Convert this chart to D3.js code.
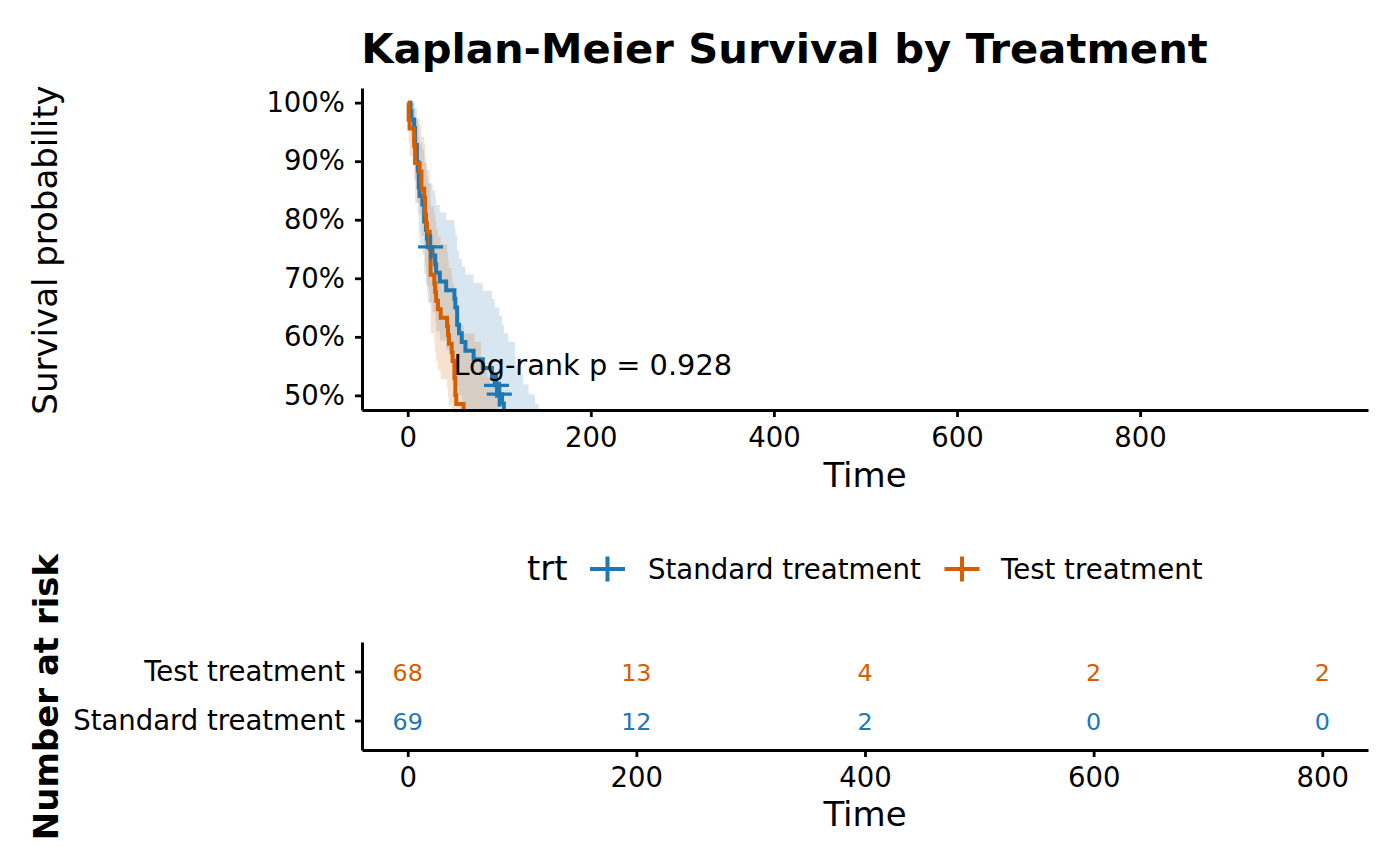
<!DOCTYPE html>
<html lang="en">
<head>
<meta charset="utf-8">
<title>Kaplan-Meier Survival by Treatment</title>
<script src="https://d3js.org/d3.v7.min.js"></script>
<style>
  body { margin: 0; background: #fff; }
  text { font-family: "DejaVu Sans", sans-serif; fill: #000; }
</style>
</head>
<body>
<script>
// Kaplan-Meier steps, Standard treatment
var stdTime  = [0, 3, 4, 7, 8, 10, 11, 12, 13, 16, 18, 20, 21, 22, 27, 30, 31, 35, 42, 51, 52, 54, 56, 59, 63, 72, 82, 92, 95, 100, 103, 105, 110, 117, 118, 122, 126, 132, 139, 143];
var stdSurv  = [1, 0.9855, 0.9710, 0.9565, 0.9275, 0.8986, 0.8841, 0.8551, 0.8406, 0.8261, 0.7971, 0.7826, 0.7681, 0.7536, 0.7388, 0.7241, 0.7093, 0.6945, 0.6797, 0.6650, 0.6502, 0.6206, 0.6059, 0.5911, 0.5763, 0.5615, 0.5468, 0.5320, 0.5172, 0.5020, 0.4863, 0.4706, 0.4549, 0.4282, 0.4123, 0.3965, 0.3799, 0.3634, 0.3469, 0.3304];
var stdLower = [1, 0.9577, 0.9322, 0.9096, 0.8683, 0.8301, 0.8117, 0.7759, 0.7585, 0.7413, 0.7076, 0.6911, 0.6747, 0.6585, 0.6421, 0.6258, 0.6097, 0.5937, 0.5778, 0.5621, 0.5465, 0.5157, 0.5004, 0.4853, 0.4702, 0.4553, 0.4405, 0.4258, 0.4112, 0.3962, 0.3807, 0.3654, 0.3502, 0.3237, 0.3087, 0.2939, 0.2784, 0.2631, 0.2480, 0.2331];
var stdUpper = [1, 1, 1, 1, 0.9908, 0.9727, 0.9629, 0.9423, 0.9316, 0.9205, 0.8979, 0.8862, 0.8744, 0.8625, 0.8502, 0.8378, 0.8252, 0.8125, 0.7997, 0.7867, 0.7736, 0.7470, 0.7336, 0.7200, 0.7063, 0.6925, 0.6787, 0.6647, 0.6506, 0.6361, 0.6212, 0.6062, 0.5910, 0.5664, 0.5507, 0.5349, 0.5185, 0.5019, 0.4852, 0.4683];
var stdCensTime = [25, 97, 100, 123];
var stdCensSurv = [0.7536, 0.5172, 0.5020, 0.3965];

// Kaplan-Meier steps, Test treatment
var testTime  = [0, 1, 2, 7, 8, 13, 15, 18, 19, 20, 21, 24, 25, 29, 30, 31, 33, 36, 43, 44, 45, 48, 49, 51, 52, 53, 61, 73, 80, 84, 87, 90, 95, 99];
var testSurv  = [1, 0.9706, 0.9559, 0.9265, 0.8971, 0.8824, 0.8529, 0.8382, 0.8088, 0.7941, 0.7794, 0.7500, 0.7059, 0.6912, 0.6765, 0.6618, 0.6471, 0.6324, 0.6176, 0.6029, 0.5882, 0.5735, 0.5588, 0.5294, 0.5000, 0.4853, 0.4706, 0.4559, 0.4265, 0.4112, 0.3960, 0.3802, 0.3643, 0.3327];
var testLower = [1, 0.9313, 0.9083, 0.8665, 0.8277, 0.8090, 0.7728, 0.7551, 0.7206, 0.7036, 0.6868, 0.6538, 0.6055, 0.5896, 0.5739, 0.5584, 0.5429, 0.5275, 0.5123, 0.4972, 0.4822, 0.4672, 0.4524, 0.4231, 0.3942, 0.3799, 0.3657, 0.3516, 0.3237, 0.3094, 0.2951, 0.2803, 0.2656, 0.2367];
var testUpper = [1, 1, 1, 0.9906, 0.9723, 0.9624, 0.9414, 0.9305, 0.9079, 0.8963, 0.8845, 0.8603, 0.8229, 0.8102, 0.7973, 0.7843, 0.7712, 0.7580, 0.7447, 0.7312, 0.7177, 0.7040, 0.6902, 0.6624, 0.6342, 0.6199, 0.6055, 0.5911, 0.5618, 0.5467, 0.5314, 0.5157, 0.4998, 0.4675];
var testCensTime = [83, 87, 103];
var testCensSurv = [0.4265, 0.3960, 0.3327];

// number at risk table
var riskTimes = [0, 200, 400, 600, 800];
var riskStd   = [69, 12, 2, 0, 0];
var riskTest  = [68, 13, 4, 2, 2];

var groups = ["Standard treatment", "Test treatment"];
var yTicks = [0.5, 0.6, 0.7, 0.8, 0.9, 1.0];
var xTicks = [0, 200, 400, 600, 800];
var pvalText = "Log-rank p = 0.928";

var colors = { "Standard treatment": "#1F77B4", "Test treatment": "#D55E00" };

var w = 1400, h = 865;
var svg = d3.select("body").append("svg")
            .attr("width", w)
            .attr("height", h);

function zipRows(t, s, lo, up) {
  return t.map(function(d, i) { return { t: d, s: s[i], lo: lo[i], up: up[i] }; });
}
var series = [
  { name: "Standard treatment", rows: zipRows(stdTime, stdSurv, stdLower, stdUpper),
    cens: stdCensTime.map(function(d, i) { return { t: d, s: stdCensSurv[i] }; }) },
  { name: "Test treatment", rows: zipRows(testTime, testSurv, testLower, testUpper),
    cens: testCensTime.map(function(d, i) { return { t: d, s: testCensSurv[i] }; }) }
];

// ---------- survival panel ----------
var left = 362, right = 1368, top1 = 88, bot1 = 410;
var x = d3.scaleLinear().domain([-49.95, 1048.95]).range([left, right]);
var y = d3.scaleLinear().domain([0.475, 1.025]).range([bot1, top1]);

svg.append("clipPath").attr("id", "panel")
   .append("rect")
   .attr("x", left).attr("y", top1)
   .attr("width", right - left).attr("height", bot1 - top1);

var plot = svg.append("g").attr("clip-path", "url(#panel)");

var band = d3.area()
  .curve(d3.curveStepAfter)
  .x(function(d) { return x(d.t); })
  .y0(function(d) { return y(d.lo); })
  .y1(function(d) { return y(d.up); });

var line = d3.line()
  .curve(d3.curveStepAfter)
  .x(function(d) { return x(d.t); })
  .y(function(d) { return y(d.s); });

plot.selectAll("path.band")
    .data(series)
    .enter()
    .append("path")
    .attr("class", "band")
    .attr("d", function(d) { return band(d.rows); })
    .attr("fill", function(d) { return colors[d.name]; })
    .attr("fill-opacity", 0.18);

plot.selectAll("path.km")
    .data(series)
    .enter()
    .append("path")
    .attr("class", "km")
    .attr("d", function(d) { return line(d.rows); })
    .attr("fill", "none")
    .attr("stroke", function(d) { return colors[d.name]; })
    .attr("stroke-width", 4);

var cross = "M-12.5,0H12.5M0,-12.5V12.5";
series.forEach(function(sr) {
  plot.selectAll(null)
      .data(sr.cens)
      .enter()
      .append("path")
      .attr("d", cross)
      .attr("transform", function(d) { return "translate(" + x(d.t) + "," + y(d.s) + ")"; })
      .attr("stroke", colors[sr.name])
      .attr("stroke-width", 3.2)
      .attr("fill", "none");
});

svg.append("text")
   .attr("x", x(50))
   .attr("y", y(0.55))
   .attr("dy", "0.3em")
   .attr("font-size", "28.8px")
   .text(pvalText);

var xAxis = d3.axisBottom(x).tickValues(xTicks).tickSize(7).tickSizeOuter(0).tickPadding(10);
var yAxis = d3.axisLeft(y).tickValues(yTicks).tickSize(7).tickSizeOuter(0).tickPadding(10)
              .tickFormat(d3.format(".0%"));

function styleAxis(g) {
  g.select(".domain").attr("stroke", "#000").attr("stroke-width", 3);
  g.selectAll(".tick line").attr("stroke", "#000").attr("stroke-width", 2.8);
  g.selectAll(".tick text").attr("font-size", "27.5px").attr("fill", "#000")
   .attr("font-family", "DejaVu Sans, sans-serif");
}

svg.append("g")
   .attr("transform", "translate(0," + bot1 + ")")
   .call(xAxis)
   .call(styleAxis);

svg.append("g")
   .attr("transform", "translate(" + left + ",0)")
   .call(yAxis)
   .call(styleAxis);

svg.append("text")
   .attr("x", (left + right) / 2)
   .attr("y", 487)
   .attr("text-anchor", "middle")
   .attr("font-size", "34px")
   .text("Time");

svg.append("text")
   .attr("transform", "translate(57," + 250 + ") rotate(-90)")
   .attr("text-anchor", "middle")
   .attr("font-size", "34px")
   .text("Survival probability");

svg.append("text")
   .attr("x", 784.5)
   .attr("y", 63)
   .attr("text-anchor", "middle")
   .attr("font-size", "41.7px")
   .attr("font-weight", "bold")
   .text("Kaplan-Meier Survival by Treatment");

// ---------- legend ----------
var legY = 569;
svg.append("text")
   .attr("x", 527).attr("y", legY + 11)
   .attr("font-size", "34px")
   .text("trt");

var legKeyX = [607.5, 962];
var legTextX = [648, 1001];
groups.forEach(function(g, i) {
  var k = svg.append("g").attr("transform", "translate(" + legKeyX[i] + "," + legY + ")");
  k.append("path")
   .attr("d", "M-17.5,0H17.5M0,-12.5V12.5")
   .attr("stroke", colors[g])
   .attr("stroke-width", 4)
   .attr("fill", "none");
  svg.append("text")
     .attr("x", legTextX[i]).attr("y", legY + 9.5)
     .attr("font-size", "27.6px")
     .text(g);
});

// ---------- risk table ----------
var top2 = 642, bot2 = 750;
var xr = d3.scaleLinear().domain([-40, 840]).range([left, right]);
var yr = d3.scaleLinear().domain([0.4, 2.6]).range([bot2, top2]);

var riskRows = [
  { name: "Standard treatment", pos: 1, vals: riskStd },
  { name: "Test treatment", pos: 2, vals: riskTest }
];

riskRows.forEach(function(r) {
  svg.selectAll(null)
     .data(r.vals)
     .enter()
     .append("text")
     .attr("x", function(d, i) { return xr(riskTimes[i]); })
     .attr("y", yr(r.pos))
     .attr("dy", "0.4em")
     .attr("text-anchor", "middle")
     .attr("font-size", "23.8px")
     .style("fill", colors[r.name])
     .text(function(d) { return d; });
});

var xrAxis = d3.axisBottom(xr).tickValues(riskTimes).tickSize(7).tickSizeOuter(0).tickPadding(10);
var yrAxis = d3.axisLeft(yr).tickValues([1, 2]).tickSize(7).tickSizeOuter(0).tickPadding(10)
               .tickFormat(function(d) { return groups[d - 1]; });

svg.append("g")
   .attr("transform", "translate(0," + bot2 + ")")
   .call(xrAxis)
   .call(styleAxis);

svg.append("g")
   .attr("transform", "translate(" + left + ",0)")
   .call(yrAxis)
   .call(styleAxis);

svg.append("text")
   .attr("x", (left + right) / 2)
   .attr("y", 826)
   .attr("text-anchor", "middle")
   .attr("font-size", "34px")
   .text("Time");

svg.append("text")
   .attr("transform", "translate(58," + 697 + ") rotate(-90)")
   .attr("text-anchor", "middle")
   .attr("font-size", "34px")
   .attr("font-weight", "bold")
   .text("Number at risk");
</script>
</body>
</html>
